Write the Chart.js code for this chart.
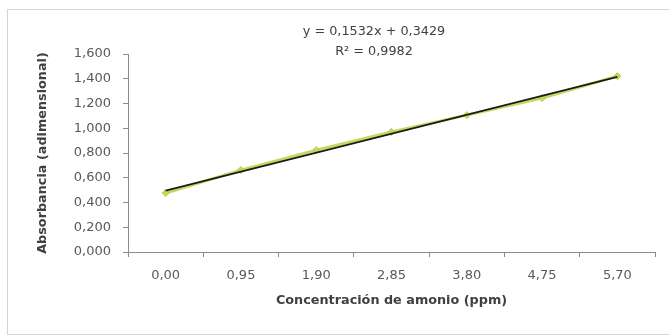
<!DOCTYPE html>
<html>
<head>
<meta charset="utf-8">
<script src="https://cdn.jsdelivr.net/npm/chart.js@4/dist/chart.umd.min.js"></script>
<style>
  html, body { margin: 0; padding: 0; background: #ffffff; }
  #wrap { position: relative; width: 669px; height: 336px; }
</style>
</head>
<body>
<div id="wrap"><canvas id="c" width="669" height="336"></canvas></div>
<script>
// ---- data ----
const categories = ["0,00", "0,95", "1,90", "2,85", "3,80", "4,75", "5,70"];
const absorbance = [0.477, 0.662, 0.823, 0.970, 1.106, 1.244, 1.421];
// trendline end values (from y = 0,1532x + 0,3429 at first and last category)
const trendline = [0.496, null, null, null, null, null, 1.415];
const yTicks = [0, 0.2, 0.4, 0.6, 0.8, 1.0, 1.2, 1.4, 1.6];
const equationText = "y = 0,1532x + 0,3429";
const r2Text = "R² = 0,9982";
const xTitle = "Concentración de amonio (ppm)";
const yTitle = "Absorbancia (adimensional)";

const FONT = "'DejaVu Sans', sans-serif";

const frame = {
  id: 'frame',
  beforeDraw(chart) {
    const ctx = chart.ctx;
    ctx.save();
    ctx.fillStyle = '#ffffff';
    ctx.fillRect(0, 0, chart.width, chart.height);
    ctx.strokeStyle = '#d4d4d4';
    ctx.lineWidth = 1;
    ctx.strokeRect(7.5, 9.5, 700, 325);
    ctx.restore();
  },
  afterDraw(chart) {
    const ctx = chart.ctx;
    ctx.save();
    ctx.fillStyle = '#404040';
    ctx.font = "12.8px " + FONT;
    ctx.textAlign = 'center';
    ctx.textBaseline = 'middle';
    ctx.fillText(equationText, 374, 32);
    ctx.fillText(r2Text, 374, 52);
    ctx.restore();
  }
};

new Chart(document.getElementById('c'), {
  type: 'line',
  data: {
    labels: categories,
    datasets: [
      {
        label: 'Lineal',
        data: trendline,
        spanGaps: true,
        borderColor: '#1a1a1a',
        borderWidth: 1.6,
        pointRadius: 0,
        fill: false,
        tension: 0
      },
      {
        label: 'Absorbancia',
        data: absorbance,
        borderColor: '#c9d65c',
        borderWidth: 3,
        pointStyle: 'rectRot',
        pointRadius: 3.5,
        pointBackgroundColor: '#c9d65c',
        pointBorderColor: '#b8c94a',
        pointBorderWidth: 1,
        fill: false,
        tension: 0
      }
    ]
  },
  options: {
    responsive: false,
    animation: false,
    devicePixelRatio: 1,
    layout: { padding: { left: 0, right: 14, top: 54, bottom: 0 } },
    plugins: {
      legend: { display: false },
      tooltip: { enabled: false },
      title: { display: false }
    },
    scales: {
      x: {
        type: 'category',
        offset: true,
        afterFit(scale) { scale.height = 84; },
        border: { display: true, color: '#8c8c8c', width: 1 },
        grid: {
          offset: true,
          drawOnChartArea: false,
          drawTicks: true,
          tickLength: 5,
          color: '#8c8c8c'
        },
        ticks: {
          color: '#595959',
          font: { family: FONT, size: 13 },
          padding: 11,
          maxRotation: 0,
          autoSkip: false
        },
        title: {
          display: true,
          text: xTitle,
          color: '#404040',
          font: { family: FONT, size: 12.8, weight: 'bold' },
          padding: { top: 0, bottom: 28 }
        }
      },
      y: {
        min: 0,
        max: 1.6,
        afterFit(scale) { scale.width = 128; },
        afterBuildTicks(scale) { scale.ticks = yTicks.map(v => ({ value: v })); },
        border: { display: true, color: '#8c8c8c', width: 1 },
        grid: {
          drawOnChartArea: false,
          drawTicks: true,
          tickLength: 5,
          color: '#8c8c8c'
        },
        ticks: {
          color: '#595959',
          font: { family: FONT, size: 13 },
          padding: 12,
          callback: (v) => Number(v).toFixed(3).replace('.', ',')
        },
        title: {
          display: true,
          text: yTitle,
          color: '#404040',
          font: { family: FONT, size: 12.8, weight: 'bold' },
          padding: { top: 35, bottom: 0 }
        }
      }
    }
  },
  plugins: [frame]
});
</script>
</body>
</html>
